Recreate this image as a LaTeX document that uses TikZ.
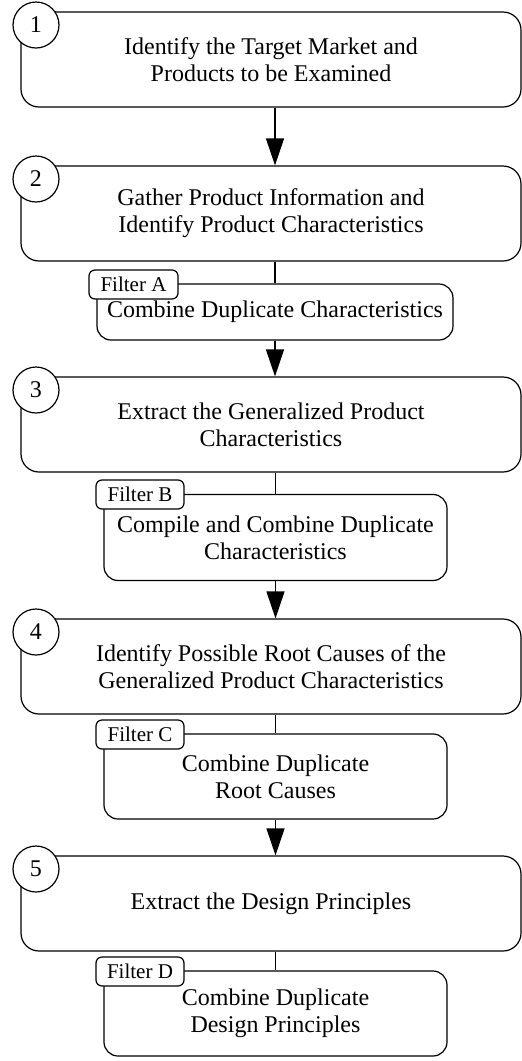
\documentclass[tikz,border=0pt]{standalone}
\usepackage{fontspec}
\setmainfont{Liberation Serif}
\usetikzlibrary{arrows.meta}
\begin{document}
\begin{tikzpicture}[x=1pt,y=-1pt,
  every path/.style={line width=1.2pt},
  bigbox/.style={draw, rounded corners=18pt, minimum width=500pt, minimum height=95pt,
    align=center, font=\fontsize{24}{27}\selectfont, inner sep=0pt},
  subbox/.style={draw, fill=white, rounded corners=14pt, align=center,
    font=\fontsize{24}{27}\selectfont, inner sep=0pt},
  tagbox/.style={draw, fill=white, rounded corners=6pt, minimum height=29pt,
    font=\fontsize{21}{24}\selectfont, inner sep=0pt},
  numcirc/.style={draw, fill=white, circle, minimum size=46pt, inner sep=0pt,
    font=\fontsize{24}{26}\selectfont},
  arr/.style={-{Triangle[length=27pt,width=18pt]}}
]
\useasboundingbox (0,0) rectangle (522,1061);

% big boxes
\node[bigbox] (b1) at (271,59.5) {Identify the Target Market and\\Products to be Examined};
\node[bigbox] (b2) at (271,213.5) {Gather Product Information and\\Identify Product Characteristics};
\node[bigbox] (b3) at (271,424.5) {Extract the Generalized Product\\Characteristics};
\node[bigbox] (b4) at (271,666.5) {Identify Possible Root Causes of the\\Generalized Product Characteristics};
\node[bigbox] (b5) at (271,903.5) {Extract the Design Principles};

% number circles
\node[numcirc] (n1) at (36,25) {1};
\node[numcirc] (n2) at (36,179) {2};
\node[numcirc] (n3) at (36,390) {3};
\node[numcirc] (n4) at (36,632) {4};
\node[numcirc] (n5) at (36,869) {5};

% sub boxes
\node[subbox, minimum width=356pt, minimum height=56pt] (sA) at (275,312) {Combine Duplicate Characteristics};
\node[subbox, minimum width=343pt, minimum height=86pt] (sB) at (275.5,537.5) {Compile and Combine Duplicate\\Characteristics};
\node[subbox, minimum width=343pt, minimum height=85pt] (sC) at (275.5,776.5) {Combine Duplicate\\Root Causes};
\node[subbox, minimum width=343pt, minimum height=85pt] (sD) at (275.5,1013.5) {Combine Duplicate\\Design Principles};

% filter tags
\node[tagbox, minimum width=89pt] (tA) at (133.5,284.5) {Filter A};
\node[tagbox, minimum width=88pt] (tB) at (140,494.5) {Filter B};
\node[tagbox, minimum width=88pt] (tC) at (140,734.5) {Filter C};
\node[tagbox, minimum width=88pt] (tD) at (140,971.5) {Filter D};

% connectors
\draw[arr] ([xshift=4pt]b1.south) -- ([xshift=4pt]b2.north);
\draw (sA.north |- b2.south) -- (sA.north);
\draw[arr] (sA.south) -- (sA.south |- b3.north);
\draw (sB.north |- b3.south) -- (sB.north);
\draw[arr] (sB.south) -- (sB.south |- b4.north);
\draw (sC.north |- b4.south) -- (sC.north);
\draw[arr] (sC.south) -- (sC.south |- b5.north);
\draw (sD.north |- b5.south) -- (sD.north);
\end{tikzpicture}
\end{document}
